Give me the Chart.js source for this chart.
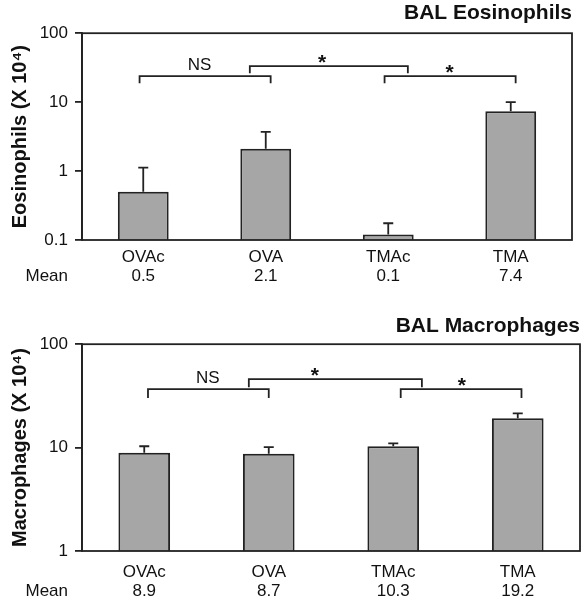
<!DOCTYPE html>
<html>
<head>
<meta charset="utf-8">
<script src="https://cdn.jsdelivr.net/npm/chart.js@4.4.0/dist/chart.umd.min.js"></script>
<style>
  html, body { margin: 0; padding: 0; background: #fff; }
  .box { position: relative; width: 587px; height: 300px; }
</style>
</head>
<body>
<div class="box"><canvas id="eosChart"></canvas></div>
<div class="box"><canvas id="macChart"></canvas></div>
<script>
  'use strict';

  var groups = ['OVAc', 'OVA', 'TMAc', 'TMA'];

  // BAL eosinophils (X 10^4)
  var eosMeans = [0.5, 2.1, 0.12, 7.4];
  var eosErrTop = [1.12, 3.7, 0.175, 10.0];
  var eosMeanLabels = ['0.5', '2.1', '0.1', '7.4'];
  var eosTicks = [0.1, 1, 10, 100];

  // BAL macrophages (X 10^4)
  var macMeans = [8.9, 8.7, 10.3, 19.2];
  var macErrTop = [10.3, 10.1, 11.0, 21.4];
  var macMeanLabels = ['8.9', '8.7', '10.3', '19.2'];
  var macTicks = [1, 10, 100];

  // significance brackets, in category index / data units
  var eosBrackets = [
    { from: -0.03, to: 1.04, level: 23.8, end: 18.8, text: 'NS', at: 0.46 },
    { from: 0.87, to: 2.16, level: 33.2, end: 26.3, text: '*', at: 1.46 },
    { from: 1.97, to: 3.04, level: 23.8, end: 18.8, text: '*', at: 2.5 }
  ];
  var macBrackets = [
    { from: 0.03, to: 1.0, level: 36.7, end: 30.1, text: 'NS', at: 0.51 },
    { from: 0.84, to: 2.23, level: 45.9, end: 38.4, text: '*', at: 1.37 },
    { from: 2.06, to: 3.03, level: 36.7, end: 30.1, text: '*', at: 2.55 }
  ];

  var FONT = 'Liberation Sans, Arial, sans-serif';
  var INK = '#222';

  var extrasPlugin = {
    id: 'extras',
    afterDatasetsDraw: function(chart, args, opts) {
      var ctx = chart.ctx;
      var xs = chart.scales.x, ys = chart.scales.y, a = chart.chartArea;
      var x0 = xs.getPixelForValue(0);
      var step = xs.getPixelForValue(1) - x0;
      function px(i) { return x0 + i * step; }

      ctx.save();
      ctx.strokeStyle = INK;
      ctx.lineWidth = 1.8;

      // error bars (upper only)
      opts.errTop.forEach(function(v, i) {
        var cx = px(i);
        var top = ys.getPixelForValue(v);
        var base = ys.getPixelForValue(chart.data.datasets[0].data[i]);
        ctx.beginPath();
        ctx.moveTo(cx, base);
        ctx.lineTo(cx, top);
        ctx.moveTo(cx - 5, top);
        ctx.lineTo(cx + 5, top);
        ctx.stroke();
      });

      // frame
      ctx.strokeRect(a.left, a.top, a.right - a.left, a.bottom - a.top);

      // brackets
      ctx.fillStyle = '#111';
      ctx.textAlign = 'center';
      ctx.textBaseline = 'alphabetic';
      opts.brackets.forEach(function(b) {
        var yl = ys.getPixelForValue(b.level);
        var ye = ys.getPixelForValue(b.end);
        ctx.beginPath();
        ctx.moveTo(px(b.from), ye);
        ctx.lineTo(px(b.from), yl);
        ctx.lineTo(px(b.to), yl);
        ctx.lineTo(px(b.to), ye);
        ctx.stroke();
        if (b.text === '*') {
          ctx.font = 'bold 21px ' + FONT;
          ctx.fillText(b.text, px(b.at), yl + 3);
        } else {
          ctx.font = '17px ' + FONT;
          ctx.fillText(b.text, px(b.at), yl - 6);
        }
      });

      // "Mean" row label
      ctx.font = '17px ' + FONT;
      ctx.textAlign = 'right';
      ctx.textBaseline = 'middle';
      ctx.fillText('Mean', a.left - 14, xs.top + opts.labelPad + 18.7 * 1.5);
      ctx.restore();
    }
  };

  function makeChart(id, title, yTitle, means, errTop, meanLabels, ticks, brackets, lay) {
    var ctx = document.getElementById(id);
    return new Chart(ctx, {
      type: 'bar',
      data: {
        labels: groups.map(function(g, i) { return [g, meanLabels[i]]; }),
        datasets: [{
          data: means,
          backgroundColor: '#a6a6a6',
          borderColor: INK,
          borderWidth: 2,
          borderSkipped: 'start',
          categoryPercentage: 1,
          barPercentage: 0.415
        }]
      },
      options: {
        responsive: true,
        maintainAspectRatio: false,
        animation: false,
        devicePixelRatio: 1,
        layout: { padding: { left: 0, right: lay.right, top: 0, bottom: 0 } },
        plugins: {
          legend: { display: false },
          tooltip: { enabled: false },
          title: {
            display: true,
            text: title,
            align: 'end',
            color: '#111',
            font: { family: FONT, size: 21, weight: 'bold', lineHeight: 1.2 },
            padding: lay.titlePad
          },
          extras: { errTop: errTop, brackets: brackets, labelPad: lay.labelPad }
        },
        scales: {
          x: {
            grid: { display: false, drawTicks: false },
            border: { display: false },
            ticks: {
              color: '#111',
              padding: lay.labelPad,
              font: { family: FONT, size: 17, lineHeight: 1.1 }
            },
            afterFit: function(s) { s.height = lay.xHeight; }
          },
          y: {
            type: 'logarithmic',
            min: ticks[0],
            max: ticks[ticks.length - 1],
            afterBuildTicks: function(s) {
              s.ticks = ticks.map(function(v) { return { value: v }; });
            },
            afterFit: function(s) { s.width = 82; },
            grid: { drawOnChartArea: false, drawTicks: true, tickLength: 7, color: INK, lineWidth: 1.8 },
            border: { display: true, color: INK, width: 1.8 },
            ticks: {
              color: '#111',
              padding: 7,
              font: { family: FONT, size: 17 },
              callback: function(v) { return String(v); }
            },
            title: {
              display: true,
              text: yTitle,
              color: '#111',
              font: { family: FONT, size: 20, weight: 'bold', lineHeight: 1.2 },
              padding: { top: 8, bottom: 0 }
            }
          }
        }
      },
      plugins: [extrasPlugin]
    });
  }

  makeChart('eosChart', 'BAL Eosinophils', 'Eosinophils (X 10\u2074)',
    eosMeans, eosErrTop, eosMeanLabels, eosTicks, eosBrackets,
    { right: 15, titlePad: { top: 1, bottom: 7 }, labelPad: 8, xHeight: 60 });

  makeChart('macChart', 'BAL Macrophages', 'Macrophages (X 10\u2074)',
    macMeans, macErrTop, macMeanLabels, macTicks, macBrackets,
    { right: 7, titlePad: { top: 14, bottom: 5 }, labelPad: 12, xHeight: 49 });
</script>
</body>
</html>
